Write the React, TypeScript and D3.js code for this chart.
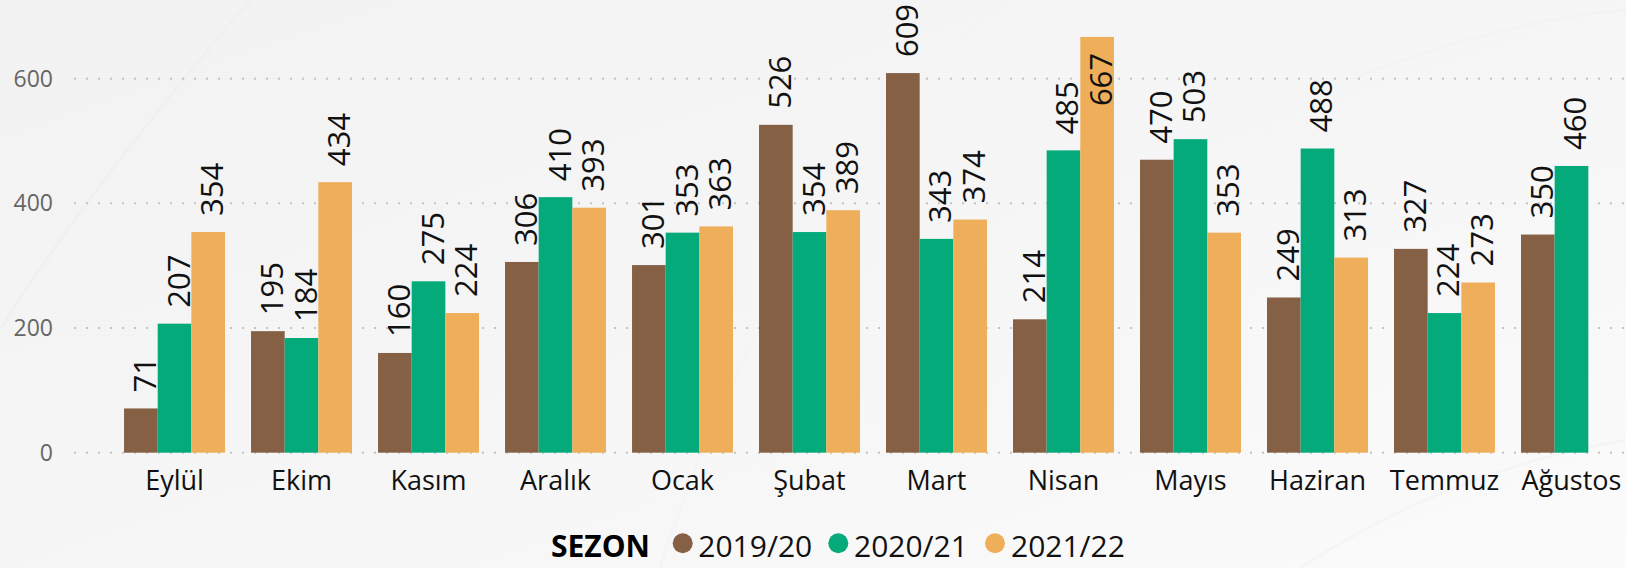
import React from "react";
import * as d3 from "d3";

const months = ["Eylül", "Ekim", "Kasım", "Aralık", "Ocak", "Şubat", "Mart", "Nisan", "Mayıs", "Haziran", "Temmuz", "Ağustos"];
const seasons = ["2019/20", "2020/21", "2021/22"];
const s2019: (number | null)[] = [71, 195, 160, 306, 301, 526, 609, 214, 470, 249, 327, 350];
const s2020: (number | null)[] = [207, 184, 275, 410, 353, 354, 343, 485, 503, 488, 224, 460];
const s2021: (number | null)[] = [354, 434, 224, 393, 363, 389, 374, 667, 353, 313, 273, null];
const yTicks = [0, 200, 400, 600];
const colors = ["#856045", "#05AA7B", "#EFAE5A"];
const legendTitle = "SEZON";

const W = 1626;
const H = 568;
const FONT = "'Open Sans', 'Noto Sans', sans-serif";

export default function App() {
  const series = [s2019, s2020, s2021];
  const x = d3.scaleBand<string>().domain(months).range([74, 1672]).paddingInner(0.205).paddingOuter(0.394);
  const x1 = d3.scaleBand<string>().domain(seasons).range([0, x.bandwidth()]).padding(0);
  const y = d3.scaleLinear().domain([0, 600]).range([452.7, 78.7]);

  const legendY = 556.7;
  const legendItems = [
    { cx: 682.7, tx: 698.3 },
    { cx: 838.3, tx: 854 },
    { cx: 995, tx: 1011 },
  ];

  return (
    <svg width={W} height={H} style={{ position: "absolute", left: 0, top: 0, fontFamily: FONT }}>
      <defs>
        <linearGradient id="bg" x1="0" y1="0" x2="1" y2="1">
          <stop offset="0" stopColor="#f2f2f2" />
          <stop offset="0.55" stopColor="#f6f6f6" />
          <stop offset="1" stopColor="#fbfbfb" />
        </linearGradient>
      </defs>
      <rect x={0} y={0} width={W} height={H} fill="url(#bg)" />
      <path d="M 250 0 Q 80 200 0 330" fill="none" stroke="#f0f0f3" strokeWidth={3} />
      <path d="M 660 568 Q 760 250 1000 0" fill="none" stroke="#f4f4f6" strokeWidth={2} />
      <path d="M 1350 80 Q 1500 20 1626 10" fill="none" stroke="#f3f3f5" strokeWidth={3} />
      <path d="M 1300 568 Q 1450 470 1626 440" fill="none" stroke="#f5f5f7" strokeWidth={3} />

      {yTicks.map((t) => (
        <g key={t}>
          <line x1={74} x2={W} y1={y(t)} y2={y(t)} stroke="#c4c4c4" strokeWidth={2} strokeDasharray="2 10" />
          <text x={53} y={y(t)} dy="0.35em" textAnchor="end" fontSize={23} fill="#666666">
            {t}
          </text>
        </g>
      ))}

      {months.map((m, i) => (
        <g key={m} transform={`translate(${x(m)},0)`}>
          {series.map((s, j) => {
            const v = s[i];
            if (v === null || v === undefined) return null;
            const bx = x1(seasons[j])!;
            const bw = x1.bandwidth();
            const top = y(v);
            const cx = bx + bw / 2 + 15;
            const inside = top < 70;
            const ty = inside ? top + 16 : top - 16;
            return (
              <g key={j}>
                <rect x={bx} y={top} width={bw} height={y(0) - top} fill={colors[j]} />
                <text
                  transform={`translate(${cx},${ty}) rotate(-90)`}
                  textAnchor={inside ? "end" : "start"}
                  fontSize={31}
                  fill="#111"
                >
                  {v}
                </text>
              </g>
            );
          })}
          <text x={x.bandwidth() / 2} y={490} textAnchor="middle" fontSize={27} fill="#111">
            {m}
          </text>
        </g>
      ))}

      <text x={551} y={legendY} fontSize={30} fontWeight="bold" fill="#000">
        {legendTitle}
      </text>
      {seasons.map((s, j) => (
        <g key={s}>
          <circle cx={legendItems[j].cx} cy={543.3} r={10} fill={colors[j]} />
          <text x={legendItems[j].tx} y={legendY} fontSize={30} fill="#111">
            {s}
          </text>
        </g>
      ))}
    </svg>
  );
}
